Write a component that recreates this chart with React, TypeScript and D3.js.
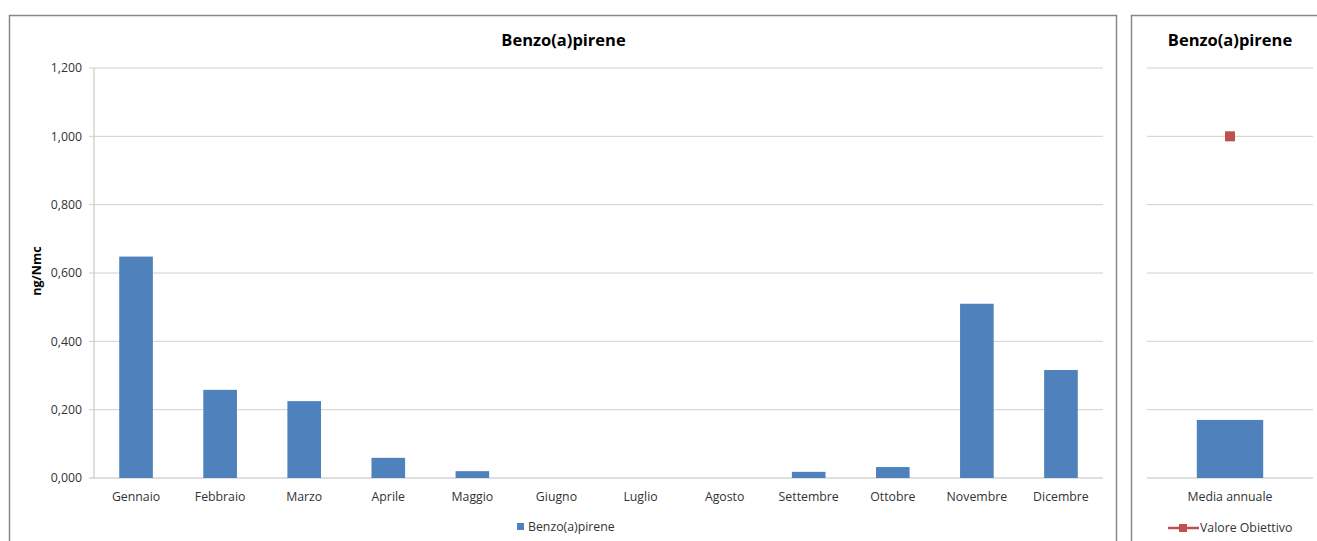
import React from "react";
import * as d3 from "d3";

const months = ["Gennaio","Febbraio","Marzo","Aprile","Maggio","Giugno","Luglio","Agosto","Settembre","Ottobre","Novembre","Dicembre"];
const values = [0.648, 0.258, 0.225, 0.059, 0.020, 0, 0, 0, 0.018, 0.032, 0.510, 0.316];
const yTicks = [0, 0.2, 0.4, 0.6, 0.8, 1.0, 1.2];
const annualCategory = ["Media annuale"];
const annualMean = [0.170];
const targetValue = [1.0];
const chartTitle = "Benzo(a)pirene";
const seriesName = "Benzo(a)pirene";
const targetName = "Valore Obiettivo";
const yLabel = "ng/Nmc";

const W = 1317, H = 541;
const BAR = "#4f81bd";
const RED = "#c0504d";
const GRID = "#d0d0d0";
const AXIS = "#bfbfbf";
const BORDER = "#888888";
const TEXT = "#333333";
const FONT = "'Open Sans', 'Noto Sans', sans-serif";
const FS = 12.3;

const fmt = (v: number) => d3.format(".3f")(v).replace(".", ",");

export default function App() {
  const y = d3.scaleLinear().domain([0, 1.2]).range([478, 68]);
  const x = d3.scaleBand<string>().domain(months).range([94, 1103]).paddingInner(0.6).paddingOuter(0.3);
  const xr = d3.scaleBand<string>().domain(annualCategory).range([1147, 1313]).paddingInner(0.6).paddingOuter(0.3);
  const yr = y;

  return (
    <svg width={W} height={H} style={{ position: "absolute", left: 0, top: 0, background: "#fff" }} fontFamily={FONT}>
      <rect x={0} y={0} width={W} height={H} fill="#fff" />
      {/* Left panel */}
      <rect x={9.5} y={15.5} width={1107} height={600} fill="#fff" stroke={BORDER} strokeWidth={1.5} />
      <text x={563.5} y={46} textAnchor="middle" fontSize={16.5} fontWeight="bold" fill="#000">{chartTitle}</text>
      {yTicks.map((t) => (
        <g key={t}>
          <line x1={89} x2={1103} y1={y(t)} y2={y(t)} stroke={t === 0 ? AXIS : GRID} strokeWidth={1} />
          <text x={82} y={y(t)} dy="0.35em" textAnchor="end" fontSize={FS} fill={TEXT}>{fmt(t)}</text>
        </g>
      ))}
      <line x1={94} x2={94} y1={68} y2={478} stroke={AXIS} strokeWidth={1} />
      {months.map((m, i) => (
        <g key={m}>
          <rect x={x(m)} y={y(values[i])} width={x.bandwidth()} height={478 - y(values[i])} fill={BAR} />
          <text x={(x(m) as number) + x.bandwidth() / 2} y={497} dy="0.35em" textAnchor="middle" fontSize={FS} fill={TEXT}>{m}</text>
        </g>
      ))}
      <text transform={`translate(41,271) rotate(-90)`} textAnchor="middle" fontSize={12.5} fontWeight="bold" fill="#000">{yLabel}</text>
      <rect x={517} y={523} width={7} height={7} fill={BAR} />
      <text x={528} y={527} dy="0.35em" fontSize={FS} fill={TEXT}>{seriesName}</text>

      {/* Right panel */}
      <rect x={1131.5} y={15.5} width={300} height={600} fill="#fff" stroke={BORDER} strokeWidth={1.5} />
      <text x={1230} y={46} textAnchor="middle" fontSize={16.5} fontWeight="bold" fill="#000">{chartTitle}</text>
      {yTicks.map((t) => (
        <line key={t} x1={1147} x2={1313} y1={yr(t)} y2={yr(t)} stroke={t === 0 ? AXIS : GRID} strokeWidth={1} />
      ))}
      {annualCategory.map((c, i) => (
        <g key={c}>
          <rect x={xr(c)} y={yr(annualMean[i])} width={xr.bandwidth()} height={478 - yr(annualMean[i])} fill={BAR} />
          <rect x={(xr(c) as number) + xr.bandwidth() / 2 - 5} y={yr(targetValue[i]) - 5} width={10} height={10} fill={RED} />
          <text x={(xr(c) as number) + xr.bandwidth() / 2} y={497} dy="0.35em" textAnchor="middle" fontSize={FS} fill={TEXT}>{c}</text>
        </g>
      ))}
      <line x1={1168} x2={1199} y1={528} y2={528} stroke={RED} strokeWidth={2.5} />
      <rect x={1179} y={524} width={8} height={8} fill={RED} />
      <text x={1200} y={528} dy="0.35em" fontSize={FS} fill={TEXT}>{targetName}</text>
    </svg>
  );
}
